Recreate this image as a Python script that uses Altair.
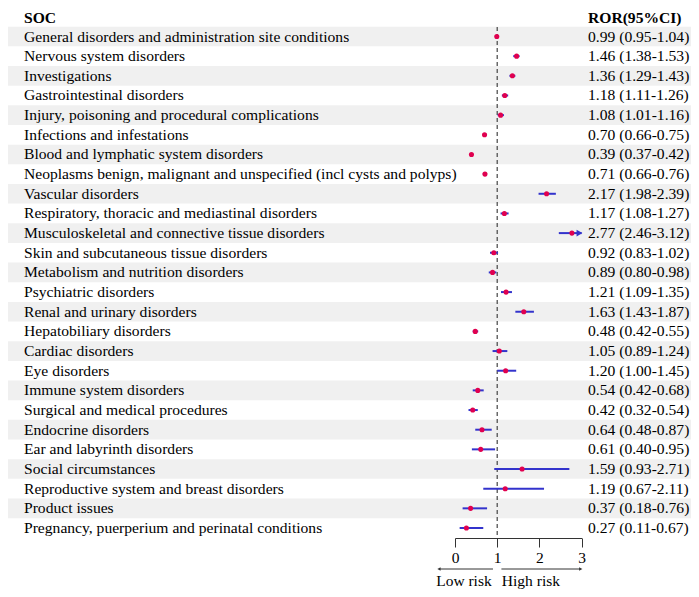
import altair as alt
import pandas as pd

soc = [
    "General disorders and administration site conditions",
    "Nervous system disorders",
    "Investigations",
    "Gastrointestinal disorders",
    "Injury, poisoning and procedural complications",
    "Infections and infestations",
    "Blood and lymphatic system disorders",
    "Neoplasms benign, malignant and unspecified (incl cysts and polyps)",
    "Vascular disorders",
    "Respiratory, thoracic and mediastinal disorders",
    "Musculoskeletal and connective tissue disorders",
    "Skin and subcutaneous tissue disorders",
    "Metabolism and nutrition disorders",
    "Psychiatric disorders",
    "Renal and urinary disorders",
    "Hepatobiliary disorders",
    "Cardiac disorders",
    "Eye disorders",
    "Immune system disorders",
    "Surgical and medical procedures",
    "Endocrine disorders",
    "Ear and labyrinth disorders",
    "Social circumstances",
    "Reproductive system and breast disorders",
    "Product issues",
    "Pregnancy, puerperium and perinatal conditions",
]
ror = [0.99, 1.46, 1.36, 1.18, 1.08, 0.70, 0.39, 0.71, 2.17, 1.17, 2.77, 0.92, 0.89,
       1.21, 1.63, 0.48, 1.05, 1.20, 0.54, 0.42, 0.64, 0.61, 1.59, 1.19, 0.37, 0.27]
lower = [0.95, 1.38, 1.29, 1.11, 1.01, 0.66, 0.37, 0.66, 1.98, 1.08, 2.46, 0.83, 0.80,
         1.09, 1.43, 0.42, 0.89, 1.00, 0.42, 0.32, 0.48, 0.40, 0.93, 0.67, 0.18, 0.11]
upper = [1.04, 1.53, 1.43, 1.26, 1.16, 0.75, 0.42, 0.76, 2.39, 1.27, 3.12, 1.02, 0.98,
         1.35, 1.87, 0.55, 1.24, 1.45, 0.68, 0.54, 0.87, 0.95, 2.71, 2.11, 0.76, 0.67]
x_ticks = [0, 1, 2, 3]
x_max = 3

df = pd.DataFrame({
    "row": list(range(len(soc))),
    "soc": soc,
    "ror": ror,
    "lower": lower,
    "upper": upper,
})
df["label"] = [f"{r:.2f} ({l:.2f}-{u:.2f})" for r, l, u in zip(ror, lower, upper)]
df["upper_c"] = df["upper"].clip(upper=x_max)

W, H = 683, 530
FONT = "Liberation Serif"
FS = 15.6

xscale = alt.Scale(domain=[0, 3], range=[447, 573.6], nice=False, zero=False)
yscale = alt.Scale(domain=[0, 25], range=[28.5, 520], nice=False, zero=False)

base = alt.Chart(df)

bands = base.transform_filter("datum.row % 2 == 0").transform_calculate(
    y0="datum.row - 0.5", y1="datum.row + 0.5"
).mark_rect(color="#f0f0f0").encode(
    x=alt.value(0), x2=alt.value(W),
    y=alt.Y("y0:Q", scale=yscale, axis=None), y2="y1:Q",
)

ref = alt.Chart(pd.DataFrame({"v": [1]})).mark_rule(
    color="#444444", strokeDash=[4, 3], strokeWidth=1.2
).encode(
    x=alt.X("v:Q", scale=xscale,
            axis=alt.Axis(values=x_ticks, format="d", labelFont=FONT, labelFontSize=15.5,
                          labelColor="black", domainColor="#333333", tickColor="#333333",
                          tickSize=9, labelPadding=3, grid=False, title=None,
                          labelFlush=False, domainWidth=1, tickWidth=1)),
    y=alt.value(19), y2=alt.value(H),
)

ci = base.mark_rule(color="#3333cc", strokeWidth=2).encode(
    x=alt.X("lower:Q", scale=xscale), x2="upper_c:Q",
    y=alt.Y("row:Q", scale=yscale),
)

arrow_tip = base.transform_filter(f"datum.upper > {x_max}").transform_calculate(
    xa="2.95"
).mark_point(shape="triangle-right", filled=True, size=45, color="#3333cc", opacity=1).encode(
    x=alt.X("xa:Q", scale=xscale), y=alt.Y("row:Q", scale=yscale),
)

pts = base.mark_circle(color="#e0004f", size=26, opacity=1).encode(
    x=alt.X("ror:Q", scale=xscale), y=alt.Y("row:Q", scale=yscale),
)

left_txt = base.mark_text(align="left", baseline="middle", font=FONT, fontSize=FS,
                          color="black").encode(
    x=alt.value(16), y=alt.Y("row:Q", scale=yscale), text="soc:N",
)
right_txt = base.mark_text(align="left", baseline="middle", font=FONT, fontSize=FS,
                           color="black").encode(
    x=alt.value(580), y=alt.Y("row:Q", scale=yscale), text="label:N",
)

one = pd.DataFrame({"k": [0]})
head_l = alt.Chart(one).mark_text(text="SOC", align="left", baseline="top", font=FONT,
                                  fontSize=FS, fontWeight="bold", color="black").encode(
    x=alt.value(16), y=alt.value(2.5))
head_r = alt.Chart(one).mark_text(text="ROR(95%CI)", align="left", baseline="top",
                                  font=FONT, fontSize=FS, fontWeight="bold",
                                  color="black").encode(
    x=alt.value(580), y=alt.value(2.5))

AY = H + 31
arr_l = alt.Chart(one).mark_rule(color="#333333", strokeWidth=1).encode(
    x=alt.datum(-0.36), x2=alt.datum(0.9), y=alt.value(AY))
arr_r = alt.Chart(one).mark_rule(color="#333333", strokeWidth=1).encode(
    x=alt.datum(1.1), x2=alt.datum(2.96), y=alt.value(AY))
head_al = alt.Chart(one).mark_point(shape="triangle-left", filled=True, size=14,
                                    color="#333333", opacity=1).encode(
    x=alt.datum(-0.38), y=alt.value(AY))
head_ar = alt.Chart(one).mark_point(shape="triangle-right", filled=True, size=14,
                                    color="#333333", opacity=1).encode(
    x=alt.datum(2.98), y=alt.value(AY))
low_t = alt.Chart(one).mark_text(text="Low risk", align="right", baseline="middle",
                                 font=FONT, fontSize=15.5, color="black").encode(
    x=alt.datum(0.87), y=alt.value(H + 43))
high_t = alt.Chart(one).mark_text(text="High risk", align="left", baseline="middle",
                                  font=FONT, fontSize=15.5, color="black").encode(
    x=alt.datum(1.11), y=alt.value(H + 43))

chart = alt.layer(
    bands, ref, ci, arrow_tip, pts, left_txt, right_txt, head_l, head_r,
    arr_l, arr_r, head_al, head_ar, low_t, high_t,
).properties(
    width=W, height=H,
    autosize=alt.AutoSizeParams(type="none"),
    padding={"left": 0, "top": 0, "right": 0, "bottom": 51},
).configure_view(stroke=None)

chart.save("out.html", embed_options={"renderer": "svg", "actions": False})
